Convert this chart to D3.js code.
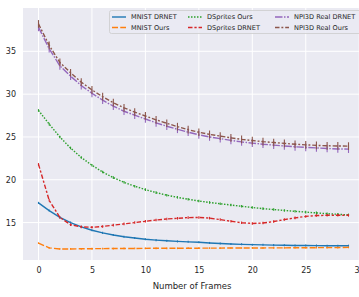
<!DOCTYPE html>
<html>
<head>
<meta charset="utf-8">
<script src="https://cdn.jsdelivr.net/npm/d3@7"></script>
<style>
  body { margin: 0; background: #fff; }
  svg { display: block; font-family: "DejaVu Sans", sans-serif; }
</style>
</head>
<body>
<div id="chart"></div>
<script>
const frames = d3.range(0, 30);

const seriesNames = ["MNIST DRNET", "MNIST Ours", "DSprites Ours", "DSprites DRNET", "NPI3D Real DRNET", "NPI3D Real Ours"];
const seriesColors = ["#1f77b4", "#ff7f0e", "#2ca02c", "#d62728", "#9467bd", "#8c564b"];
const seriesDashes = ["", "6,2.25", "1.5,1.5", "4.5,1.9,2.25,1.9", "7.5,1.5,1.5,1.5", "4.5,1.9,1.9,1.9"];
const seriesErr = [0.12, 0.1, 0.15, 0.15, 0.45, 0.45];

const mnistDrnet = [17.3, 16.4, 15.6, 15.0, 14.5, 14.1, 13.8, 13.55, 13.35, 13.2, 13.05, 12.95, 12.87, 12.8, 12.75, 12.7, 12.62, 12.56, 12.5, 12.46, 12.42, 12.4, 12.37, 12.35, 12.33, 12.32, 12.31, 12.3, 12.3, 12.3];
const mnistOurs = [12.6, 12.05, 11.92, 11.92, 11.94, 11.95, 11.96, 11.97, 11.98, 11.98, 11.99, 12.0, 12.0, 12.0, 12.01, 12.01, 12.02, 12.02, 12.03, 12.03, 12.04, 12.04, 12.05, 12.05, 12.06, 12.06, 12.07, 12.08, 12.08, 12.1];
const dspritesOurs = [28.1, 26.5, 25.0, 23.7, 22.6, 21.7, 20.9, 20.25, 19.7, 19.25, 18.85, 18.5, 18.2, 17.95, 17.72, 17.52, 17.35, 17.2, 17.05, 16.9, 16.76, 16.63, 16.52, 16.42, 16.32, 16.22, 16.13, 16.04, 15.97, 15.9];
const dspritesDrnet = [21.8, 17.6, 15.6, 14.75, 14.5, 14.45, 14.55, 14.7, 14.85, 15.0, 15.15, 15.3, 15.42, 15.5, 15.58, 15.6, 15.52, 15.35, 15.15, 14.98, 14.9, 14.95, 15.12, 15.35, 15.55, 15.72, 15.82, 15.85, 15.85, 15.85];
const npiDrnet = [37.8, 35.3, 33.3, 32.1, 31.0, 30.1, 29.3, 28.6, 28.0, 27.55, 27.1, 26.65, 26.25, 25.9, 25.55, 25.25, 25.0, 24.8, 24.6, 24.42, 24.28, 24.15, 24.05, 23.95, 23.85, 23.78, 23.72, 23.65, 23.6, 23.58];
const npiOurs = [38.2, 35.7, 33.7, 32.5, 31.4, 30.5, 29.7, 29.0, 28.4, 27.9, 27.45, 27.0, 26.6, 26.2, 25.85, 25.55, 25.3, 25.1, 24.9, 24.72, 24.58, 24.45, 24.35, 24.25, 24.15, 24.08, 24.02, 23.97, 23.95, 23.93];
const seriesValues = [mnistDrnet, mnistOurs, dspritesOurs, dspritesDrnet, npiDrnet, npiOurs];

const xTicks = [0, 5, 10, 15, 20, 25, 30];
const yTicks = [15, 20, 25, 30, 35];

const W = 359, H = 297;
const plot = { left: 23, top: 8, right: 364, bottom: 260 };

const svg = d3.select("#chart")
    .append("svg")
    .attr("width", W)
    .attr("height", H);

const x = d3.scaleLinear().domain([-1.45, 30.45]).range([plot.left, plot.right]);
const y = d3.scaleLinear().domain([10.63, 40.06]).range([plot.bottom, plot.top]);

svg.append("rect")
    .attr("x", plot.left)
    .attr("y", plot.top)
    .attr("width", plot.right - plot.left)
    .attr("height", plot.bottom - plot.top)
    .attr("fill", "#eaeaf2");

// grid
svg.append("g")
    .selectAll("line")
    .data(yTicks)
    .join("line")
    .attr("x1", plot.left).attr("x2", plot.right)
    .attr("y1", d => y(d)).attr("y2", d => y(d))
    .attr("stroke", "#fff").attr("stroke-width", 1);

svg.append("g")
    .selectAll("line")
    .data(xTicks)
    .join("line")
    .attr("x1", d => x(d)).attr("x2", d => x(d))
    .attr("y1", plot.top).attr("y2", plot.bottom)
    .attr("stroke", "#fff").attr("stroke-width", 1);

// axes, no domain line
const yAxis = svg.append("g")
    .attr("transform", `translate(${plot.left},0)`)
    .call(d3.axisLeft(y).tickValues(yTicks).tickSize(0).tickPadding(7));
yAxis.select(".domain").remove();
yAxis.selectAll("text").attr("fill", "#262626").style("font-size", "8px").style("font-family", "DejaVu Sans");

const xAxis = svg.append("g")
    .attr("transform", `translate(0,${plot.bottom})`)
    .call(d3.axisBottom(x).tickValues(xTicks).tickSize(0).tickPadding(7));
xAxis.select(".domain").remove();
xAxis.selectAll("text").attr("fill", "#262626").style("font-size", "8px").style("font-family", "DejaVu Sans");

svg.append("text")
    .attr("x", 192)
    .attr("y", 286)
    .attr("dy", "0.35em")
    .attr("text-anchor", "middle")
    .attr("fill", "#262626")
    .style("font-size", "8.5px")
    .text("Number of Frames");

// lines and error bars
const line = d3.line()
    .x((d, i) => x(frames[i]))
    .y(d => y(d));

seriesValues.forEach(function (vals, s) {
    svg.append("g")
        .selectAll("line")
        .data(vals)
        .join("line")
        .attr("x1", (d, i) => x(frames[i])).attr("x2", (d, i) => x(frames[i]))
        .attr("y1", d => y(d - seriesErr[s])).attr("y2", d => y(d + seriesErr[s]))
        .attr("stroke", seriesColors[s])
        .attr("stroke-width", 1.1);

    svg.append("path")
        .datum(vals)
        .attr("fill", "none")
        .attr("stroke", seriesColors[s])
        .attr("stroke-width", 1.4)
        .attr("stroke-dasharray", seriesDashes[s] || null)
        .attr("d", line);
});

// legend
const legend = svg.append("g");
legend.append("rect")
    .attr("x", 109.5).attr("y", 10.5)
    .attr("width", 262).attr("height", 23)
    .attr("rx", 2)
    .attr("fill", "#eaeaf2").attr("fill-opacity", 0.8)
    .attr("stroke", "#cccccc").attr("stroke-width", 0.8);

const colX = [112, 188, 275];
const rowY = [17, 27.5];

seriesNames.forEach(function (name, s) {
    const cx = colX[Math.floor(s / 2)], cy = rowY[s % 2];
    legend.append("line")
        .attr("x1", cx).attr("x2", cx + 14)
        .attr("y1", cy).attr("y2", cy)
        .attr("stroke", seriesColors[s])
        .attr("stroke-width", 1.4)
        .attr("stroke-dasharray", seriesDashes[s] || null);
    legend.append("text")
        .attr("x", cx + 19)
        .attr("y", cy)
        .attr("dy", "0.35em")
        .attr("fill", "#262626")
        .style("font-size", "6.6px")
        .text(name);
});
</script>
</body>
</html>
